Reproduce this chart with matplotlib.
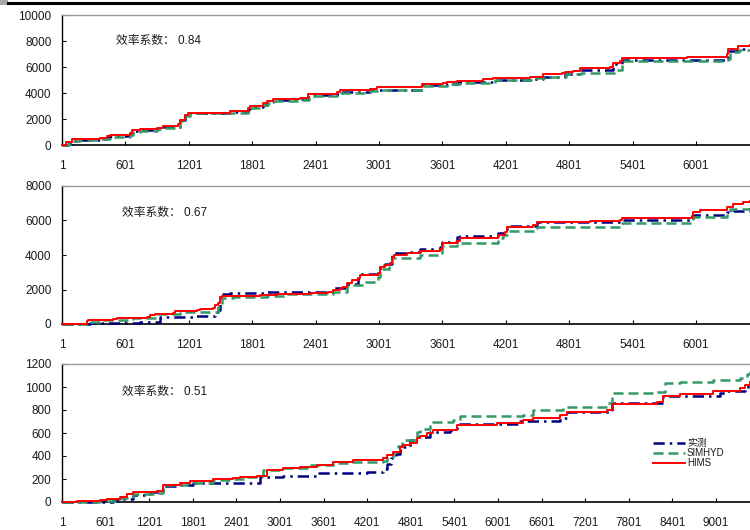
import matplotlib
matplotlib.use("Agg")
import matplotlib.pyplot as plt
from matplotlib.lines import Line2D
from matplotlib.patches import Rectangle

plt.rcParams['font.family'] = ['Liberation Sans', 'Noto Sans CJK SC', 'DejaVu Sans']

# ---- series labels ----
series_names = ["实测", "SIMHYD", "HIMS"]

# ---- panel 1: cumulative runoff ----
p1_obs_x = [1, 60, 93, 150, 361, 423, 454, 644, 660, 738, 896, 959, 1117, 1164, 1195, 1590, 1763, 1779, 1905, 1937,
            2000, 2252, 2331, 2600, 2631, 2915, 2978, 3404, 3641, 3751, 4082, 4429, 4555, 4760, 4902, 5218, 5297, 6291, 6306, 6400,
            6512]
p1_obs_y = [0, 100, 300, 400, 450, 600, 700, 850, 1050, 1150, 1250, 1350, 1900, 2300, 2500, 2550, 2750, 2900, 3100, 3300,
            3450, 3550, 3850, 3950, 4100, 4200, 4260, 4580, 4700, 4810, 5010, 5100, 5260, 5470, 5790, 6200, 6520, 6600, 7200, 7350,
            7350]
p1_sim_x = [1, 70, 110, 170, 361, 454, 644, 670, 738, 896, 959, 1117, 1164, 1210, 1590, 1763, 1790, 1905, 1950, 2010,
            2252, 2340, 2600, 2640, 2915, 2990, 3420, 3660, 3770, 4100, 4440, 4570, 4770, 4910, 5230, 5300, 6300, 6320, 6410, 6512]
p1_sim_y = [0, 80, 300, 400, 430, 650, 800, 1000, 1100, 1200, 1300, 1850, 2250, 2450, 2500, 2700, 2850, 3050, 3250, 3400,
            3500, 3800, 3900, 4000, 4150, 4260, 4560, 4680, 4800, 5000, 5150, 5260, 5450, 5560, 5750, 6450, 6600, 7150, 7300, 7300]
p1_hims_x = [1, 40, 93, 361, 423, 454, 644, 660, 738, 896, 959, 1095, 1117, 1164, 1195, 1590, 1763, 1779, 1905, 1937,
             2000, 2252, 2331, 2600, 2631, 2915, 2978, 3404, 3609, 3641, 3735, 3751, 3987, 4082, 4429, 4555, 4729, 4760, 4839, 4902,
             5186, 5218, 5281, 5297, 5912, 6291, 6306, 6400, 6512]
p1_hims_y = [0, 200, 430, 555, 680, 800, 930, 1140, 1240, 1310, 1440, 1640, 1940, 2320, 2450, 2630, 2830, 3000, 3200, 3380,
             3540, 3640, 3960, 4070, 4220, 4340, 4470, 4710, 4760, 4840, 4910, 4960, 5040, 5160, 5260, 5470, 5540, 5590, 5720, 5920,
             6020, 6300, 6470, 6730, 6800, 7030, 7360, 7610, 7660]
p1_nse = "0.84"

# ---- panel 2 ----
p2_obs_x = [1, 265, 739, 928, 1241, 1449, 1480, 1496, 1590, 1937, 2127, 2568, 2695, 2805, 2821, 2994, 3011, 3060, 3121, 3263,
            3389, 3578, 3594, 3736, 3767, 4130, 4209, 4493, 5298, 5976, 6292, 6354, 6512]
p2_obs_y = [0, 80, 135, 425, 480, 715, 810, 1740, 1780, 1840, 1855, 2070, 2320, 2650, 2900, 3000, 3420, 3500, 4100, 4190,
            4330, 4440, 4770, 5060, 5120, 5260, 5680, 5930, 6030, 6320, 6510, 6530, 6530]
p2_sim_x = [1, 187, 235, 360, 673, 900, 1117, 1480, 1512, 1618, 1940, 2130, 2568, 2695, 2850, 2994, 3011, 3100, 3121, 3389,
            3578, 3594, 3736, 4130, 4177, 4209, 4493, 5298, 5976, 6292, 6323, 6512]
p2_sim_y = [0, 0, 135, 230, 330, 580, 700, 970, 1490, 1550, 1620, 1720, 1870, 2260, 2450, 2740, 3200, 3320, 3810, 4000,
            4100, 4520, 4710, 4970, 5160, 5390, 5640, 5870, 6220, 6380, 6650, 6700]
p2_hims_x = [1, 187, 235, 250, 487, 519, 803, 834, 881, 1054, 1070, 1276, 1307, 1433, 1449, 1480, 1496, 1512, 1875, 2033,
             2348, 2521, 2568, 2632, 2663, 2695, 2743, 2805, 2821, 2994, 3011, 3058, 3105, 3125, 3140, 3263, 3389, 3578, 3594, 3736,
             3767, 4130, 4193, 4209, 4461, 4493, 4714, 5000, 5282, 5298, 5960, 5976, 6039, 6292, 6354, 6449, 6512]
p2_hims_y = [0, 0, 190, 230, 290, 330, 425, 520, 580, 660, 770, 810, 850, 910, 1100, 1200, 1580, 1620, 1680, 1740,
             1820, 1870, 1970, 2070, 2160, 2360, 2550, 2650, 2840, 2980, 3320, 3420, 3560, 3900, 4000, 4100, 4230, 4330, 4710, 4830,
             4970, 5160, 5350, 5600, 5740, 5890, 5930, 5980, 6030, 6160, 6280, 6470, 6610, 6760, 6940, 7050, 7130]
p2_nse = "0.67"

# ---- panel 3 ----
p3_obs_x = [1, 706, 799, 982, 1212, 1395, 1625, 1808, 2629, 2725, 3046, 3506, 4193, 4420, 4469, 4530, 4600, 4652, 4697, 4790,
            4881, 5064, 5340, 5432, 6303, 6853, 6946, 7565, 8275, 9055, 9147, 9400, 9440, 9468]
p3_obs_y = [0, 15, 29, 58, 88, 140, 146, 161, 169, 219, 228, 248, 263, 290, 330, 380, 420, 453, 482, 540,
            569, 613, 623, 680, 701, 730, 780, 861, 920, 949, 964, 984, 1030, 1030]
p3_sim_x = [1, 523, 799, 982, 1304, 1395, 1716, 2083, 2358, 2542, 2680, 2771, 3046, 3413, 3734, 4009, 4422, 4469, 4560, 4629,
            4675, 4881, 4927, 5064, 5385, 5477, 6349, 6486, 6900, 7496, 7565, 8184, 8298, 8505, 8963, 9330, 9420, 9468]
p3_sim_y = [0, 9, 38, 67, 79, 146, 161, 190, 204, 219, 225, 277, 292, 321, 336, 350, 356, 394, 438, 490,
            540, 613, 634, 692, 710, 745, 759, 803, 830, 861, 949, 955, 1037, 1042, 1060, 1080, 1110, 1139]
p3_hims_x = [1, 202, 523, 615, 799, 891, 982, 1304, 1395, 1625, 1762, 2083, 2358, 2450, 2680, 2818, 3046, 3276, 3506, 3734,
             4009, 4422, 4469, 4560, 4652, 4697, 4790, 4881, 4927, 5019, 5110, 5340, 5432, 5983, 6349, 6486, 6853, 6946, 7496, 7565,
             8184, 8275, 8505, 8963, 9330, 9400, 9468]
p3_hims_y = [0, 9, 15, 29, 44, 67, 88, 93, 146, 161, 181, 196, 210, 219, 225, 277, 292, 307, 321, 345,
             365, 382, 412, 432, 482, 500, 510, 558, 570, 599, 622, 628, 672, 686, 715, 730, 759, 780, 803, 856,
             867, 920, 943, 964, 993, 1020, 1042]
p3_nse = "0.51"

# ---- axis ticks ----
x_ticks_short = list(range(1, 6002, 600))
x_ticks_long = list(range(1, 9002, 600))
y_ticks_1 = list(range(0, 10001, 2000))
y_ticks_2 = list(range(0, 8001, 2000))
y_ticks_3 = list(range(0, 1201, 200))

OBS_COLOR = "#000080"
SIM_COLOR = "#339966"
HIMS_COLOR = "#FF0000"
OBS_STYLE = dict(color=OBS_COLOR, lw=1.8, dashes=(4.5, 2.0, 1.0, 2.0))
SIM_STYLE = dict(color=SIM_COLOR, lw=1.8, dashes=(4.0, 2.0))
HIMS_STYLE = dict(color=HIMS_COLOR, lw=1.4)

W, H = 750, 530
fig = plt.figure(figsize=(W / 100, H / 100), dpi=100)


def px_rect(left, top, right, bottom):
    return [left / W, 1 - bottom / H, (right - left) / W, (bottom - top) / H]


def draw_panel(rect, xmax, xticks, yticks, obs, sim, hims, nse, text_xy):
    ax = fig.add_axes(px_rect(*rect))
    ax.step(obs[0], obs[1], where="post", zorder=3, clip_on=False, **OBS_STYLE)
    ax.step(sim[0], sim[1], where="post", zorder=3.2, clip_on=False, **SIM_STYLE)
    ax.step(hims[0], hims[1], where="post", zorder=3.4, clip_on=False, **HIMS_STYLE)
    ax.set_xlim(1, xmax)
    ax.set_ylim(yticks[0], yticks[-1])
    ax.set_xticks(xticks)
    ax.set_yticks(yticks)
    ax.spines["right"].set_visible(False)
    ax.spines["top"].set_color("#9a9a9a")
    ax.spines["top"].set_linewidth(1.0)
    ax.spines["left"].set_linewidth(1.0)
    ax.spines["bottom"].set_linewidth(1.2)
    ax.tick_params(axis="both", direction="in", length=3, width=0.8,
                   labelsize=8.5, labelcolor="#1a1a1a")
    ax.tick_params(axis="x", pad=10.5)
    ax.tick_params(axis="y", pad=7.5)
    fig.text(text_xy[0] / W, 1 - text_xy[1] / H, "效率系数： " + nse,
             fontsize=8.5, va="center", ha="left", color="#1a1a1a")
    return ax


ax1 = draw_panel((62, 15, 750, 145), 6512, x_ticks_short, y_ticks_1,
                 (p1_obs_x, p1_obs_y), (p1_sim_x, p1_sim_y), (p1_hims_x, p1_hims_y),
                 p1_nse, (116, 41))
ax2 = draw_panel((62, 186, 750, 324), 6512, x_ticks_short, y_ticks_2,
                 (p2_obs_x, p2_obs_y), (p2_sim_x, p2_sim_y), (p2_hims_x, p2_hims_y),
                 p2_nse, (122, 213))
ax3 = draw_panel((62, 364, 750, 502), 9468, x_ticks_long, y_ticks_3,
                 (p3_obs_x, p3_obs_y), (p3_sim_x, p3_sim_y), (p3_hims_x, p3_hims_y),
                 p3_nse, (122, 392))

# compact key inside the bottom panel
for i, (name, style) in enumerate(zip(series_names, [OBS_STYLE, SIM_STYLE, HIMS_STYLE])):
    yy = 1 - (443 + 10 * i) / H
    fig.add_artist(Line2D([653 / W, 685 / W], [yy, yy], transform=fig.transFigure, **style))
    fig.text(687 / W, yy, name, fontsize=7, va="center", ha="left", color="#1a1a1a")

# page rule along the top edge
fig.add_artist(Rectangle((0, 1 - 5 / H), 8 / W, 5 / H, color="#a8a8a8",
                         transform=fig.transFigure, lw=0))
fig.add_artist(Line2D([8 / W, 1], [1 - 3 / H, 1 - 3 / H], color="black",
                      lw=2.2, transform=fig.transFigure))

fig.savefig("out.png", dpi=100)
